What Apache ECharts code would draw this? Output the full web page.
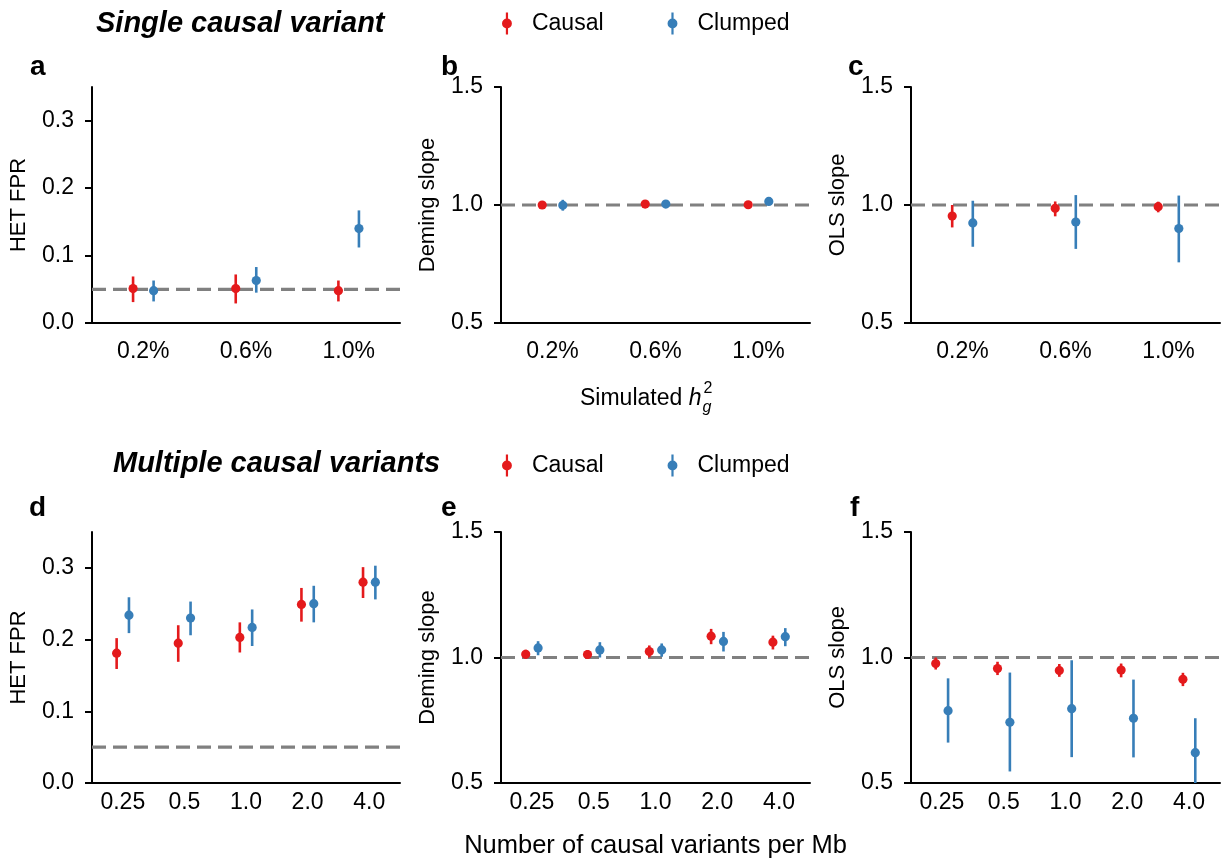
<!DOCTYPE html>
<html>
<head>
<meta charset="utf-8">
<title>HET FPR and slope simulations</title>
<script src="https://cdn.jsdelivr.net/npm/echarts@6/dist/echarts.min.js"></script>
<style>
  html, body { margin: 0; padding: 0; background: #fff; }
  #chart { width: 1225px; height: 865px; }
</style>
</head>
<body>
<div id="chart"></div>
<script>
// categories on the x axes
var heritabilityCats = ['0.2%', '0.6%', '1.0%'];
var densityCats = ['0.25', '0.5', '1.0', '2.0', '4.0'];

// y tick labels
var fprTicks = [0, 0.1, 0.2, 0.3];
var slopeTicks = [0.5, 1.0, 1.5];

// dashed reference levels
var fprNull = 0.05;
var slopeNull = 1.0;

// each row: [estimate, lower, upper]
var singleHetCausal = [[0.051, 0.031, 0.069], [0.051, 0.029, 0.072], [0.048, 0.032, 0.063]];
var singleHetClumped = [[0.048, 0.032, 0.063], [0.063, 0.045, 0.083], [0.140, 0.112, 0.167]];
var singleDemingCausal = [[1.000, 0.986, 1.014], [1.004, 0.996, 1.012], [1.001, 0.993, 1.009]];
var singleDemingClumped = [[0.999, 0.976, 1.022], [1.004, 0.993, 1.015], [1.015, 1.004, 1.026]];
var singleOlsCausal = [[0.953, 0.905, 1.000], [0.986, 0.952, 1.015], [0.993, 0.969, 1.014]];
var singleOlsClumped = [[0.924, 0.823, 1.018], [0.928, 0.814, 1.042], [0.900, 0.757, 1.040]];

var multiHetCausal = [[0.181, 0.159, 0.202], [0.195, 0.169, 0.220], [0.203, 0.182, 0.224], [0.249, 0.225, 0.272], [0.280, 0.258, 0.301]];
var multiHetClumped = [[0.234, 0.209, 0.259], [0.230, 0.206, 0.253], [0.217, 0.191, 0.242], [0.250, 0.224, 0.275], [0.280, 0.256, 0.303]];
var multiDemingCausal = [[1.013, 0.995, 1.031], [1.012, 0.994, 1.030], [1.024, 1.000, 1.048], [1.085, 1.053, 1.114], [1.061, 1.032, 1.087]];
var multiDemingClumped = [[1.038, 1.009, 1.065], [1.030, 1.000, 1.061], [1.030, 1.003, 1.056], [1.064, 1.024, 1.102], [1.083, 1.045, 1.117]];
var multiOlsCausal = [[0.976, 0.952, 1.000], [0.956, 0.930, 0.983], [0.948, 0.923, 0.974], [0.950, 0.921, 0.976], [0.913, 0.886, 0.939]];
var multiOlsClumped = [[0.788, 0.661, 0.917], [0.742, 0.546, 0.940], [0.796, 0.603, 0.989], [0.758, 0.602, 0.912], [0.621, 0.485, 0.758]];

var RED = '#e41a1c';
var BLUE = '#377eb8';
var FONT = '"Liberation Sans", Arial, Helvetica, sans-serif';
var errIcon = 'path://M30 0H50V200H30Z M40 55A45 45 0 1 1 40 145A45 45 0 1 1 40 55Z';

var panels = [
  { cats: heritabilityCats, causal: singleHetCausal, clumped: singleHetClumped, ticks: fprTicks, min: 0, max: 0.35, ref: fprNull, name: 'HET FPR', left: 92, top: 87, width: 308, height: 236, labelGap: 17 },
  { cats: heritabilityCats, causal: singleDemingCausal, clumped: singleDemingClumped, ticks: slopeTicks, min: 0.5, max: 1.5, ref: slopeNull, name: 'Deming slope', left: 501, top: 87, width: 309, height: 236, labelGap: 17 },
  { cats: heritabilityCats, causal: singleOlsCausal, clumped: singleOlsClumped, ticks: slopeTicks, min: 0.5, max: 1.5, ref: slopeNull, name: 'OLS slope', left: 911, top: 87, width: 309, height: 236, labelGap: 17 },
  { cats: densityCats, causal: multiHetCausal, clumped: multiHetClumped, ticks: fprTicks, min: 0, max: 0.35, ref: fprNull, name: 'HET FPR', left: 92, top: 532, width: 308, height: 251, labelGap: 8 },
  { cats: densityCats, causal: multiDemingCausal, clumped: multiDemingClumped, ticks: slopeTicks, min: 0.5, max: 1.5, ref: slopeNull, name: 'Deming slope', left: 501, top: 532, width: 309, height: 251, labelGap: 8, xName: 'Number of causal variants per Mb' },
  { cats: densityCats, causal: multiOlsCausal, clumped: multiOlsClumped, ticks: slopeTicks, min: 0.5, max: 1.5, ref: slopeNull, name: 'OLS slope', left: 911, top: 532, width: 309, height: 251, labelGap: 8 }
];

function renderErrorBar(params, api) {
  var cs = params.coordSys;
  var x = api.value(0);
  var mid = api.coord([x, api.value(1)]);
  var lo = api.coord([x, api.value(2)]);
  var hi = api.coord([x, api.value(3)]);
  var yBottom = Math.min(lo[1], cs.y + cs.height);
  var yTop = Math.max(hi[1], cs.y);
  var color = api.visual('color');
  return {
    type: 'group',
    children: [
      { type: 'line', shape: { x1: mid[0], y1: yTop, x2: mid[0], y2: yBottom }, style: { stroke: color, lineWidth: 2.6 } },
      { type: 'circle', shape: { cx: mid[0], cy: mid[1], r: 4.6 }, style: { fill: color } }
    ]
  };
}

var grids = [], xAxes = [], yAxes = [], series = [];
var axisColor = '#000';

panels.forEach(function (p, k) {
  grids.push({ left: p.left, top: p.top, width: p.width, height: p.height });

  xAxes.push({
    type: 'category', gridIndex: k, data: p.cats, boundaryGap: true,
    axisLine: { onZero: false, lineStyle: { color: axisColor, width: 2 } },
    axisTick: { alignWithLabel: true, length: 7, lineStyle: { color: axisColor, width: 2 } },
    axisLabel: { color: '#000', fontSize: 23, fontFamily: FONT, margin: p.labelGap },
    name: p.xName || '', nameLocation: 'middle', nameGap: 50,
    nameTextStyle: { color: '#000', fontSize: 25.5, fontFamily: FONT }
  });
  xAxes.push({
    type: 'value', gridIndex: k, min: -0.5, max: p.cats.length - 0.5, show: false
  });

  yAxes.push({
    type: 'value', gridIndex: k, min: p.min, max: p.max,
    axisLine: { show: true, onZero: false, lineStyle: { color: axisColor, width: 2 } },
    axisTick: { show: true, length: 7, customValues: p.ticks, lineStyle: { color: axisColor, width: 2 } },
    axisLabel: {
      color: '#000', fontSize: 23, fontFamily: FONT, margin: 18, customValues: p.ticks,
      formatter: function (v) { return v.toFixed(1); }
    },
    splitLine: { show: false },
    name: p.name, nameLocation: 'middle', nameGap: 62,
    nameTextStyle: { color: '#000', fontSize: 22, fontFamily: FONT }
  });

  series.push({
    type: 'line', xAxisIndex: 2 * k + 1, yAxisIndex: k, silent: true, z: 1,
    showSymbol: false, symbol: 'none',
    data: [[-0.5, p.ref], [p.cats.length - 0.5, p.ref]],
    lineStyle: { color: '#808080', width: 3.2, type: [14, 7] }
  });

  [['Causal', p.causal, RED, -0.1], ['Clumped', p.clumped, BLUE, 0.1]].forEach(function (g) {
    series.push({
      type: 'custom', name: g[0], xAxisIndex: 2 * k + 1, yAxisIndex: k, z: 3,
      itemStyle: { color: g[2] },
      renderItem: renderErrorBar,
      encode: { x: 0, y: [1, 2, 3] },
      data: g[1].map(function (d, i) { return [i + g[3], d[0], d[1], d[2]]; })
    });
  });
});

// stacked sub/superscript for the heritability axis title
var ctx = document.createElement('canvas').getContext('2d');
ctx.font = '23px ' + FONT;
var wBase = ctx.measureText('Simulated ').width;
ctx.font = 'italic 23px ' + FONT;
var wH = ctx.measureText('h').width;
var hx = 580;
var hy = 399;

var titleStyle = { color: '#000', fontFamily: FONT, fontWeight: 'bold', fontSize: 28 };
var headStyle = { color: '#000', fontFamily: FONT, fontWeight: 'bold', fontStyle: 'italic', fontSize: 29 };
var legendText = { color: '#000', fontSize: 23, fontFamily: FONT };

var option = {
  animation: false,
  backgroundColor: '#fff',
  textStyle: { fontFamily: FONT },
  title: [
    { text: 'Single causal variant', left: 91, top: 4, textStyle: headStyle },
    { text: 'Multiple causal variants', left: 108, top: 444, textStyle: headStyle },
    { text: 'a', left: 25, top: 48, textStyle: titleStyle },
    { text: 'b', left: 436, top: 48, textStyle: titleStyle },
    { text: 'c', left: 843, top: 48, textStyle: titleStyle },
    { text: 'd', left: 24, top: 489, textStyle: titleStyle },
    { text: 'e', left: 436, top: 489, textStyle: titleStyle },
    { text: 'f', left: 845, top: 489, textStyle: titleStyle }
  ],
  legend: [
    { data: ['Causal', 'Clumped'], left: 497, top: 7, icon: errIcon, itemWidth: 40, itemHeight: 22, itemGap: 64,
      textStyle: legendText },
    { data: ['Causal', 'Clumped'], left: 497, top: 449, icon: errIcon, itemWidth: 40, itemHeight: 22, itemGap: 64,
      textStyle: legendText }
  ],
  grid: grids,
  xAxis: xAxes,
  yAxis: yAxes,
  series: series,
  graphic: [
    { type: 'text', x: hx, y: hy, style: { text: 'Simulated ', font: '23px ' + FONT, fill: '#000', textVerticalAlign: 'middle' } },
    { type: 'text', x: hx + wBase, y: hy, style: { text: 'h', font: 'italic 23px ' + FONT, fill: '#000', textVerticalAlign: 'middle' } },
    { type: 'text', x: hx + wBase + wH + 1, y: hy + 9, style: { text: 'g', font: 'italic 16px ' + FONT, fill: '#000', textVerticalAlign: 'middle' } },
    { type: 'text', x: hx + wBase + wH + 2, y: hy - 10, style: { text: '2', font: '16px ' + FONT, fill: '#000', textVerticalAlign: 'middle' } }
  ]
};

var chart = echarts.init(document.getElementById('chart'));
chart.setOption(option);
window.onresize = chart.resize;
</script>
</body>
</html>
